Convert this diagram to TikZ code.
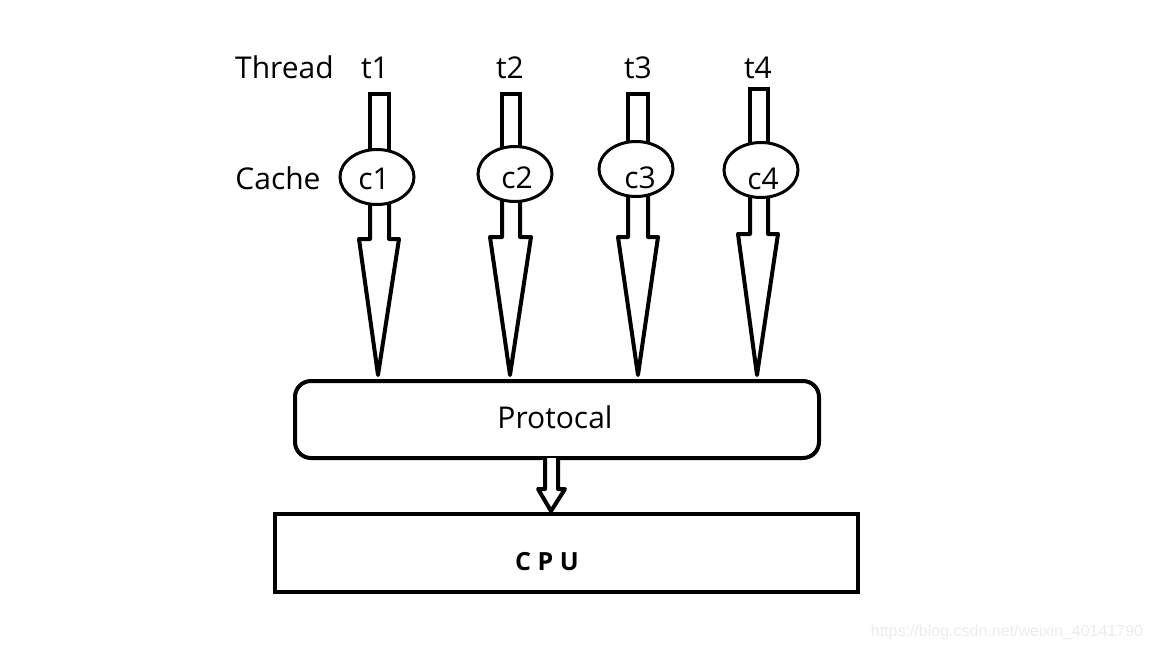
\documentclass[tikz,border=0pt]{standalone}
\usepackage{fontspec}
\setmainfont{Open Sans}
\newfontfamily\wmfont{Liberation Sans}
\usetikzlibrary{shapes.geometric}
\definecolor{wmgray}{RGB}{236,236,236}
\tikzset{
  lbl/.style={anchor=base, inner sep=0pt, font=\fontsize{30}{32}\selectfont},
  cache/.style={ellipse, draw, line width=3pt, fill=white, inner sep=0pt,
    minimum width=74pt, minimum height=55pt},
  blockarrow/.style={draw, line width=4pt, line join=round, fill=white},
  barline/.style={draw, line width=4pt, line join=miter},
  boxline/.style={draw, line width=4pt}
}
\begin{document}
\begin{tikzpicture}[x=1pt, y=-1pt]
\useasboundingbox (0,0) rectangle (1152,648);
% labels
\node[lbl] (thread) at (284.5,78) {Thread};
\node[lbl] (cachelbl) at (278,189) {Cache};
\node[lbl] (t1) at (375,78) {t1};
\node[lbl] (t2) at (510,78) {t2};
\node[lbl] (t3) at (638,78) {t3};
\node[lbl] (t4) at (758,78) {t4};
% protocol and cpu
\node[boxline, rounded corners=16pt, minimum width=524pt, minimum height=77pt, inner sep=0pt] (proto) at (557,419.5) {};
\node[lbl] (protolbl) at (555,428) {Protocal};
\node[boxline, minimum width=583pt, minimum height=78pt, inner sep=0pt] (cpu) at (566.5,553) {};
\node[anchor=base, inner sep=0pt, font=\bfseries\fontsize{25}{27}\selectfont] (cpulbl) at (547,570) {C P U};
% upper bars and lower block arrows
\foreach \l/\r/\top/\wy/\wl/\wr/\tx/\ey in
  {370/389/94/239/359/399/378/177,
   502/520/94/237/490/531/510/174,
   628/648/94/237/618/658/638/169,
   750/768/89/234/738/778/757/170}{
  \draw[barline] (\l,\ey) -- (\l,\top) -- (\r,\top) -- (\r,\ey);
  \draw[blockarrow] (\l,\ey) -- (\l,\wy) -- (\wl,\wy) -- (\tx,375) -- (\wr,\wy) -- (\r,\wy) -- (\r,\ey);
}
% caches
\node[cache] (c1) at (377,177) {};
\node[cache] (c2) at (515,174) {};
\node[cache] (c3) at (636,169) {};
\node[cache] (c4) at (761,170) {};
\node[lbl] (c1lbl) at (374,189) {c1};
\node[lbl] (c2lbl) at (517,188) {c2};
\node[lbl] (c3lbl) at (640,188) {c3};
\node[lbl] (c4lbl) at (763,189) {c4};
% middle arrow
\draw[blockarrow] (545,458) -- (545,489) -- (538,489) -- (551,511) -- (565,489) -- (558,489) -- (558,458);
% watermark
\node[anchor=base, inner sep=0pt, text=wmgray, font=\wmfont\fontsize{16}{18}\selectfont] (wm) at (1007,636) {https://blog.csdn.net/weixin\_40141790};
\end{tikzpicture}
\end{document}
